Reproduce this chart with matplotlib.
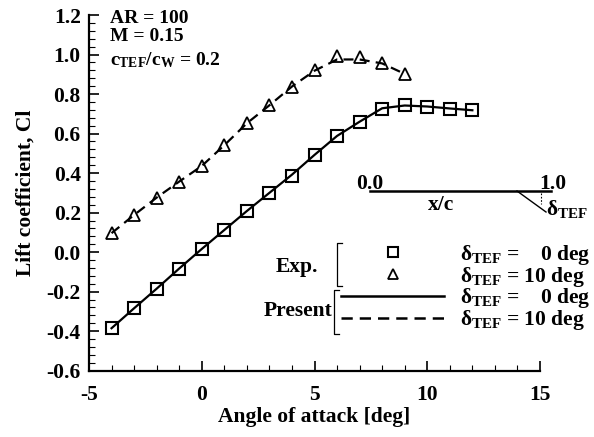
import numpy as np
import matplotlib
matplotlib.use("Agg")
import matplotlib.pyplot as plt
from matplotlib.lines import Line2D

plt.rcParams['font.family'] = ['Liberation Serif', 'DejaVu Serif']
plt.rcParams['font.weight'] = 'bold'
plt.rcParams['axes.labelweight'] = 'bold'
plt.rcParams['axes.unicode_minus'] = False
plt.rcParams['mathtext.fontset'] = 'custom'
plt.rcParams['mathtext.rm'] = 'Liberation Serif:bold'
plt.rcParams['mathtext.it'] = 'Liberation Serif'
plt.rcParams['mathtext.bf'] = 'Liberation Serif:bold'

# experiment
alpha_exp0 = [-4, -3, -2, -1, 0, 1, 2, 3, 4, 5, 6, 7, 8, 9, 10, 11, 12]
cl_exp0 = [-0.385, -0.284, -0.185, -0.083, 0.016, 0.112, 0.208, 0.300, 0.387,
           0.492, 0.588, 0.657, 0.723, 0.745, 0.733, 0.725, 0.718]
alpha_exp10 = [-4, -3, -2, -1, 0, 1, 2, 3, 4, 5, 6, 7, 8, 9]
cl_exp10 = [0.096, 0.188, 0.276, 0.357, 0.436, 0.541, 0.652, 0.743, 0.838,
            0.922, 0.990, 0.986, 0.959, 0.902]

# present computation
alpha_pr0 = [-4, -3, -2, -1, 0, 1, 2, 3, 4, 5, 6, 7, 8, 9, 10, 11, 12]
cl_pr0 = [-0.385, -0.284, -0.185, -0.083, 0.016, 0.112, 0.208, 0.300, 0.392,
          0.492, 0.588, 0.660, 0.728, 0.742, 0.737, 0.727, 0.718]
alpha_pr10 = [-4, -3, -2, -1, 0, 1, 2, 3, 4, 5, 6, 7, 8, 9]
cl_pr10 = [0.096, 0.188, 0.276, 0.357, 0.436, 0.541, 0.652, 0.743, 0.838,
           0.918, 0.975, 0.975, 0.955, 0.902]

labels = [r'$\delta_{\mathrm{TEF}}$ =    0 deg', r'$\delta_{\mathrm{TEF}}$ = 10 deg',
          r'$\delta_{\mathrm{TEF}}$ =    0 deg', r'$\delta_{\mathrm{TEF}}$ = 10 deg']

W, H = 594, 437
fig = plt.figure(figsize=(W / 100, H / 100), dpi=100)
ax = fig.add_axes([89 / W, 1 - 370.7 / H, 451 / W, 355.7 / H])

dash = (0, (4.5, 2.8))
ax.plot(alpha_pr0, cl_pr0, color='black', lw=1.6)
ax.plot(alpha_pr10, cl_pr10, color='black', lw=1.6, linestyle=dash)
ax.plot(alpha_exp0, cl_exp0, linestyle='none', marker='s', ms=8, mfc='none',
        mec='black', mew=1.5)
ax.plot(alpha_exp10, cl_exp10, linestyle='none', marker='^', ms=9, mfc='none',
        mec='black', mew=1.3)

ax.set_xlim(-5, 15)
ax.set_ylim(-0.6, 1.2)
ax.set_xticks(np.arange(-5, 16, 5))
ax.set_yticks(np.arange(-0.6, 1.21, 0.2))
ax.set_yticklabels([f'{v:.1f}' for v in np.arange(-0.6, 1.21, 0.2)])
ax.set_xticks(np.arange(-5, 16, 1), minor=True)
ax.set_yticks(np.arange(-0.6, 1.21, 0.04), minor=True)
ax.tick_params(which='major', direction='in', length=7, width=1.2, labelsize=15.5, pad=6)
ax.tick_params(axis='x', which='major', pad=10)
ax.tick_params(which='minor', direction='in', length=4, width=0.8)
ax.spines['top'].set_visible(False)
ax.spines['right'].set_visible(False)
ax.spines['left'].set_linewidth(1.6)
ax.spines['bottom'].set_linewidth(1.6)
ax.set_xlabel('Angle of attack [deg]', fontsize=15.5, labelpad=2)
ax.set_ylabel('Lift coefficient, Cl', fontsize=15.5, labelpad=8)

ax.text(110 / W, 1 - 10 / H, 'AR = 100\nM = 0.15', transform=fig.transFigure,
        fontsize=14, va='top', linespacing=1.1)
ax.text(110 / W, 1 - 50 / H, r'c$_{\mathrm{TEF}}$/c$_{\mathrm{W}}$ = 0.2',
        transform=fig.transFigure, fontsize=14, va='top')

# legend
handles = [Line2D([], [], linestyle='none', marker='s', ms=7, mfc='none', mec='black', mew=1.5),
           Line2D([], [], linestyle='none', marker='^', ms=7, mfc='none', mec='black', mew=1.3),
           Line2D([], [], color='black', lw=1.8),
           Line2D([], [], color='black', lw=1.8, linestyle=dash)]
leg = fig.legend(handles, labels, loc='center left', bbox_to_anchor=(341 / W, 1 - 287.5 / H),
                 frameon=False, fontsize=15.5, handlelength=4.8, handletextpad=0.75,
                 labelspacing=-0.1, borderpad=0, borderaxespad=0)

def px(x, y):
    return x / W, 1 - y / H

def bracket(x, y0, y1):
    xs, ys = zip(px(x + 5, y0), px(x, y0), px(x, y1), px(x + 5, y1))
    fig.add_artist(Line2D(xs, ys, color='black', lw=0.9))

bracket(337, 243, 286)
bracket(334, 290, 334)
fig.text(*px(318, 267), 'Exp.', fontsize=15.5, ha='right', va='center')
fig.text(*px(332, 311), 'Present', fontsize=15.5, ha='right', va='center')

# flap schematic
xs, ys = zip(px(370, 191), px(551, 191))
fig.add_artist(Line2D(xs, ys, color='black', lw=1.8))
xs, ys = zip(px(517, 191), px(546, 212))
fig.add_artist(Line2D(xs, ys, color='black', lw=1.0))
xs, ys = zip(px(541, 193), px(541, 204))
fig.add_artist(Line2D(xs, ys, color='black', lw=0.8, linestyle=(0, (1.5, 1.5))))
fig.text(*px(370, 189), '0.0', fontsize=15.5, ha='center', va='baseline')
fig.text(*px(553, 189), '1.0', fontsize=15.5, ha='center', va='baseline')
fig.text(*px(441, 210), 'x/c', fontsize=15.5, ha='center', va='baseline')
fig.text(*px(546, 209), r'$\delta_{\mathrm{TEF}}$', fontsize=15.5, ha='left', va='center')

fig.savefig('out.png', dpi=100)
